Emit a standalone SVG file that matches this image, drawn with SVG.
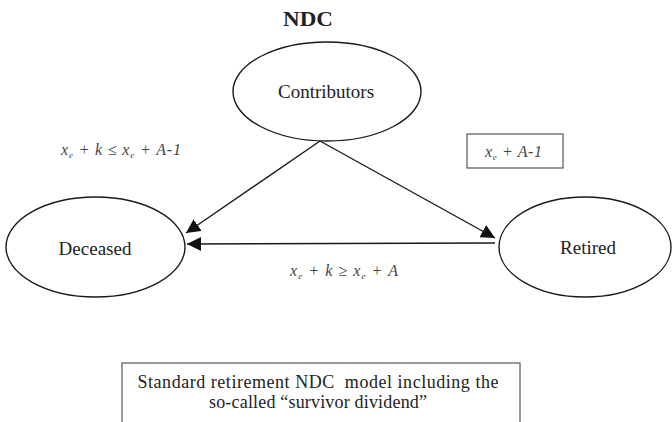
<svg xmlns="http://www.w3.org/2000/svg" width="672" height="422" viewBox="0 0 672 422">
<style>
.node{fill:#fff;stroke:#1a1a1a;stroke-width:1.4}
.lbl{font-family:"Liberation Serif","DejaVu Serif",serif;font-size:19px;fill:#222;text-anchor:middle}
.title{font-family:"Liberation Serif","DejaVu Serif",serif;font-size:20px;font-weight:bold;fill:#222;text-anchor:middle}
.cap{font-family:"Liberation Serif","DejaVu Serif",serif;font-size:18px;fill:#222;text-anchor:middle}
.math{font-family:"Liberation Serif","DejaVu Serif",serif;font-style:italic;font-size:16px;fill:#444}
.sub{font-size:9px}
.edge{stroke:#1a1a1a;stroke-width:1.4;fill:none}
.box{fill:#fff;stroke:#555;stroke-width:1.2}
</style>
<defs>
<marker id="ah" viewBox="0 0 10 10" refX="10" refY="5" markerWidth="14" markerHeight="14" markerUnits="userSpaceOnUse" orient="auto">
<path d="M0,0 L10,5 L0,10 z" fill="#111"/>
</marker>
</defs>
<rect width="672" height="422" fill="#fff"/>
<text class="title" x="308" y="26" textLength="50" lengthAdjust="spacingAndGlyphs">NDC</text>
<g id="connectors">
<line class="edge" x1="320" y1="141" x2="186" y2="233" marker-end="url(#ah)"/>
<line class="edge" x1="320" y1="141" x2="495" y2="238" marker-end="url(#ah)"/>
<line class="edge" x1="495" y1="243" x2="187" y2="244" marker-end="url(#ah)"/>
</g>
<g id="contributors">
<ellipse class="node" cx="327" cy="91.5" rx="94" ry="49.5"/>
<text class="lbl" x="326" y="98">Contributors</text>
</g>
<g id="deceased">
<ellipse class="node" cx="95.5" cy="247" rx="89.5" ry="50"/>
<text class="lbl" x="95" y="255">Deceased</text>
</g>
<g id="retired">
<ellipse class="node" cx="585" cy="247" rx="86" ry="50"/>
<text class="lbl" x="588" y="254">Retired</text>
</g>
<text class="math" x="61" y="155" textLength="120" lengthAdjust="spacing">x<tspan class="sub" dy="3">e</tspan><tspan dy="-3"> + k ≤ x</tspan><tspan class="sub" dy="3">e</tspan><tspan dy="-3"> + A-1</tspan></text>
<g id="label-box">
<rect class="box" x="467" y="134" width="96" height="34"/>
<text class="math" x="485" y="157" textLength="57" lengthAdjust="spacing">x<tspan class="sub" dy="3">e</tspan><tspan dy="-3"> + A-1</tspan></text>
</g>
<text class="math" x="290" y="276" textLength="108" lengthAdjust="spacing">x<tspan class="sub" dy="3">e</tspan><tspan dy="-3"> + k ≥ x</tspan><tspan class="sub" dy="3">e</tspan><tspan dy="-3"> + A</tspan></text>
<g id="caption">
<rect class="box" x="122" y="363" width="398" height="80"/>
<text class="cap" x="318" y="388" textLength="361" lengthAdjust="spacing" xml:space="preserve">Standard retirement NDC  model including the</text>
<text class="cap" x="318" y="408" textLength="218" lengthAdjust="spacing">so-called “survivor dividend”</text>
</g>
</svg>
